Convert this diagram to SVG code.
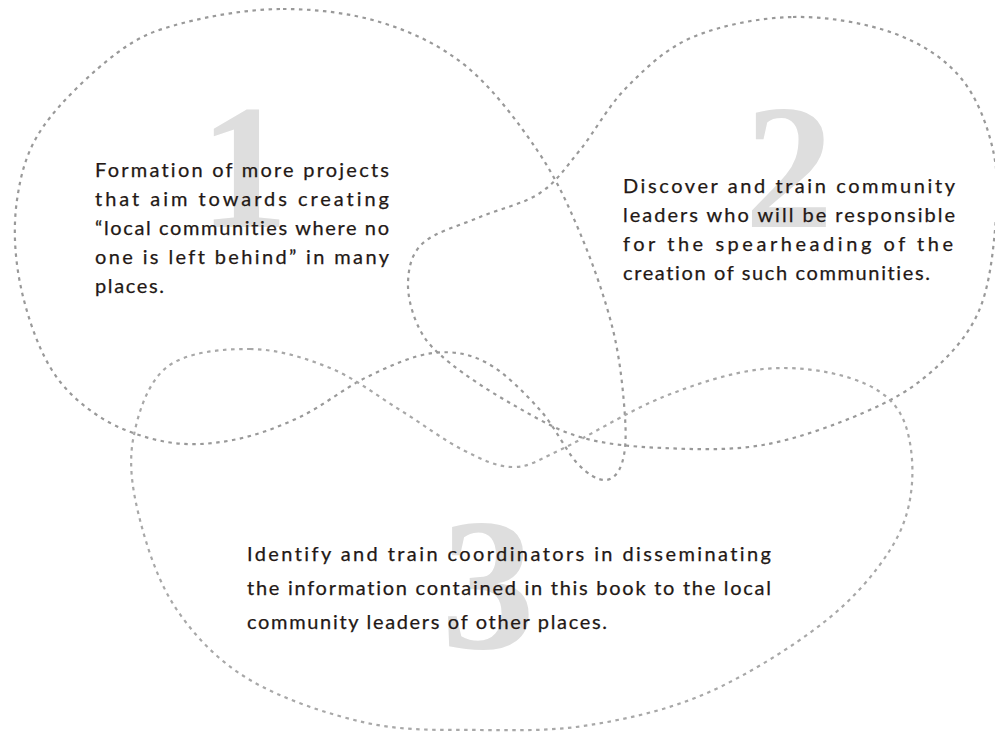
<svg xmlns="http://www.w3.org/2000/svg" width="995" height="736" viewBox="0 0 995 736">
  <style>
    .loop { fill: none; stroke: #999999; stroke-width: 2.2; stroke-dasharray: 3.5 4.5; stroke-linecap: butt; }
    .loop-light { stroke: #a8a8a8; }
    .num { font-family: "Liberation Serif", "Times New Roman", serif; font-weight: bold; fill: #dedede; text-anchor: middle; }
    .body { font-family: Lato, "Noto Sans", sans-serif; font-size: 20px; fill: #231815; stroke: #231815; stroke-width: 0.25; font-variant-ligatures: none; font-feature-settings: "liga" 0, "clig" 0; }
  </style>

  <rect width="995" height="736" fill="#ffffff"/>

  <!-- large background numerals -->
  <g id="numerals">
    <text class="num" x="244" y="227" font-size="178">1</text>
    <text class="num" x="789" y="227" font-size="178">2</text>
    <text class="num" x="488" y="648" font-size="188">3</text>
  </g>

  <!-- loop 1: upper left -->
  <g id="node-1">
    <path class="loop" d="M283,9 C316.3,9 352.3,13.3 383,23 C413.7,32.7 441.3,45.8 467,67 C492.7,88.2 518.2,122.3 537,150 C555.8,177.7 567.3,203 580,233 C592.7,263 605.5,299.3 613,330 C620.5,360.7 623.5,394.8 625,417 C626.5,439.2 625.3,452.5 622,463 C618.7,473.5 612.5,480 605,480 C597.5,480 587.8,474.7 577,463 C566.2,451.3 555,426.7 540,410 C525,393.3 504.8,372.5 487,363 C469.2,353.5 453,350.7 433,353 C413,355.3 389.2,366.3 367,377 C344.8,387.7 322.3,406.5 300,417 C277.7,427.5 255.2,435.8 233,440 C210.8,444.2 189.2,445.8 167,442 C144.8,438.2 119.5,429.5 100,417 C80.5,404.5 63.3,389.3 50,367 C36.7,344.7 25.5,310.8 20,283 C14.5,255.2 13.2,226 17,200 C20.8,174 26.3,151.5 43,127 C59.7,102.5 93.7,70.3 117,53 C140.3,35.7 155.3,30.3 183,23 C210.7,15.7 249.7,9 283,9 Z"/>
    <text class="body" x="95" y="177" textLength="294" lengthAdjust="spacing">Formation of more projects</text>
    <text class="body" x="95" y="206" textLength="294" lengthAdjust="spacing">that aim towards creating</text>
    <text class="body" x="95" y="235" textLength="294" lengthAdjust="spacing">“local communities where no</text>
    <text class="body" x="95" y="264" textLength="294" lengthAdjust="spacing">one is left behind” in many</text>
    <text class="body" x="95" y="293" textLength="69" lengthAdjust="spacing">places.</text>
  </g>

  <!-- loop 2: upper right -->
  <g id="node-2">
    <path class="loop" d="M793,17 C826.3,16.3 865.2,23 893,33 C920.8,43 943.3,57.5 960,77 C976.7,96.5 987.2,124.5 993,150 C998.8,175.5 997.5,202.8 995,230 C992.5,257.2 988.8,289.2 978,313 C967.2,336.8 949.2,356.3 930,373 C910.8,389.7 890.8,401 863,413 C835.2,425 796.3,439.2 763,445 C729.7,450.8 693.5,449.3 663,448 C632.5,446.7 605.5,444.5 580,437 C554.5,429.5 531.7,415.3 510,403 C488.3,390.7 465,375.2 450,363 C435,350.8 427,343.3 420,330 C413,316.7 407.5,297.5 408,283 C408.5,268.5 411,254 423,243 C435,232 460.5,225.3 480,217 C499.5,208.7 523.3,204.2 540,193 C556.7,181.8 565.5,167.7 580,150 C594.5,132.3 608.2,105.8 627,87 C645.8,68.2 665.3,48.7 693,37 C720.7,25.3 759.7,17.7 793,17 Z"/>
    <text class="body" x="623" y="193" textLength="332" lengthAdjust="spacing">Discover and train community</text>
    <text class="body" x="623" y="222" textLength="332" lengthAdjust="spacing">leaders who will be responsible</text>
    <text class="body" x="623" y="251" textLength="330" lengthAdjust="spacing">for the spearheading of the</text>
    <text class="body" x="623" y="280" textLength="307" lengthAdjust="spacing">creation of such communities.</text>
  </g>

  <!-- loop 3: bottom -->
  <g id="node-3">
    <path class="loop loop-light" d="M250,349 C277.2,349.2 305,357.8 330,368 C355,378.2 377.8,396.3 400,410 C422.2,423.7 444.2,440.5 463,450 C481.8,459.5 496.8,467 513,467 C529.2,467 535,461.7 560,450 C585,438.3 629.2,410.5 663,397 C696.8,383.5 731.8,372.2 763,369 C794.2,365.8 827.2,370.7 850,378 C872.8,385.3 889.7,395.5 900,413 C910.3,430.5 913.7,460.2 912,483 C910.3,505.8 904.8,526.7 890,550 C875.2,573.3 853.5,599.2 823,623 C792.5,646.8 745.8,676 707,693 C668.2,710 627.8,718.8 590,725 C552.2,731.2 517.2,730.3 480,730 C442.8,729.7 405.3,731.3 367,723 C328.7,714.7 281.7,698.8 250,680 C218.3,661.2 195.3,636.7 177,610 C158.7,583.3 147.3,548.3 140,520 C132.7,491.7 128.5,465.5 133,440 C137.5,414.5 147.5,382.2 167,367 C186.5,351.8 222.8,348.8 250,349 Z"/>
    <text class="body" x="247" y="561" textLength="524" lengthAdjust="spacing">Identify and train coordinators in disseminating</text>
    <text class="body" x="247" y="595" textLength="524" lengthAdjust="spacing">the information contained in this book to the local</text>
    <text class="body" x="247" y="629" textLength="360" lengthAdjust="spacing">community leaders of other places.</text>
  </g>
</svg>
